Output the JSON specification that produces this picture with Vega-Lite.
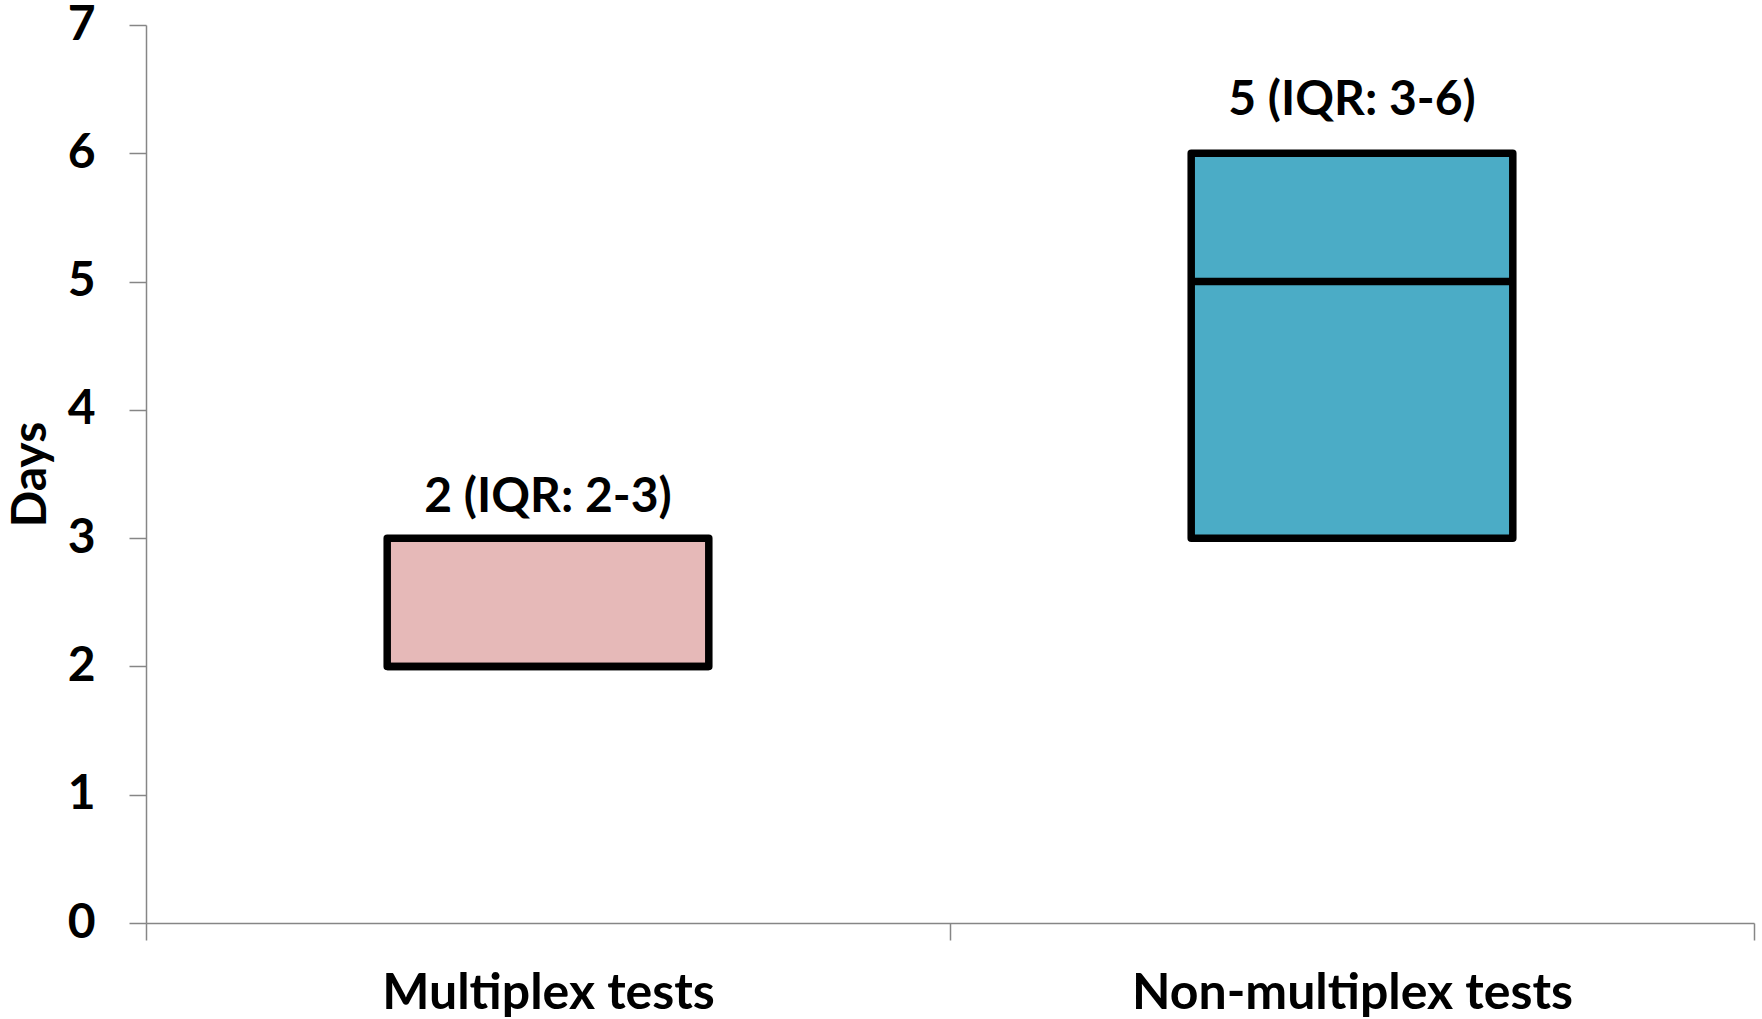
{
  "$schema": "https://vega.github.io/schema/vega-lite/v6.json",
  "width": 1608,
  "height": 898,
  "autosize": {"type": "none"},
  "padding": {"left": 146, "top": 25, "right": 8, "bottom": 96},
  "background": "white",
  "config": {"view": {"stroke": null}, "font": "Lato"},
  "data": {
    "values": [
      {"group": "Multiplex tests", "q1": 2, "median": 2, "q3": 3, "label": "2 (IQR: 2-3)"},
      {"group": "Non-multiplex tests", "q1": 3, "median": 5, "q3": 6, "label": "5 (IQR: 3-6)"}
    ]
  },
  "encoding": {
    "x": {
      "field": "group",
      "type": "nominal",
      "sort": null,
      "scale": {"paddingInner": 0, "paddingOuter": 0},
      "axis": {
        "title": null,
        "labelAngle": 0,
        "labelLimit": 0,
        "tickBand": "extent",
        "domainColor": "#868686",
        "domainWidth": 1.5,
        "tickColor": "#868686",
        "tickWidth": 1.5,
        "tickSize": 17,
        "labelPadding": 28,
        "labelFont": "Lato",
        "labelFontSize": 50,
        "labelFontWeight": "bold",
        "labelColor": "black"
      }
    }
  },
  "layer": [
    {
      "mark": {"type": "bar", "width": {"band": 0.4}, "stroke": "black", "strokeWidth": 7.5, "strokeJoin": "round", "opacity": 1},
      "encoding": {
        "y": {
          "field": "q1",
          "type": "quantitative",
          "scale": {"domain": [0, 7], "nice": false, "zero": true},
          "axis": {
            "title": "Days",
            "values": [0, 1, 2, 3, 4, 5, 6, 7],
            "format": "d",
            "grid": false,
            "domainColor": "#868686",
            "domainWidth": 1.5,
            "tickColor": "#868686",
            "tickWidth": 1.5,
            "tickSize": 17,
            "labelPadding": 34,
            "labelFont": "Lato",
            "labelFontSize": 48,
            "labelFontWeight": "bold",
            "labelColor": "black",
            "titleFont": "Lato",
            "titleFontSize": 48,
            "titleFontWeight": "bold",
            "titleColor": "black",
            "titlePadding": 12
          }
        },
        "y2": {"field": "q3"},
        "color": {
          "field": "group",
          "type": "nominal",
          "sort": null,
          "scale": {"range": ["#e6b9b8", "#4bacc6"]},
          "legend": null
        }
      }
    },
    {
      "mark": {"type": "bar", "width": {"band": 0.4}, "fillOpacity": 0, "stroke": "black", "strokeWidth": 7.5},
      "encoding": {
        "y": {"field": "median", "type": "quantitative"},
        "y2": {"field": "median"}
      }
    },
    {
      "transform": [{"filter": "datum.group === 'Multiplex tests'"}],
      "mark": {"type": "text", "font": "Lato", "fontSize": 48, "fontWeight": "bold", "color": "black", "baseline": "alphabetic", "dy": -26},
      "encoding": {
        "y": {"field": "q3", "type": "quantitative"},
        "text": {"field": "label"}
      }
    },
    {
      "transform": [{"filter": "datum.group === 'Non-multiplex tests'"}],
      "mark": {"type": "text", "font": "Lato", "fontSize": 48, "fontWeight": "bold", "color": "black", "baseline": "alphabetic", "dy": -38},
      "encoding": {
        "y": {"field": "q3", "type": "quantitative"},
        "text": {"field": "label"}
      }
    }
  ]
}
